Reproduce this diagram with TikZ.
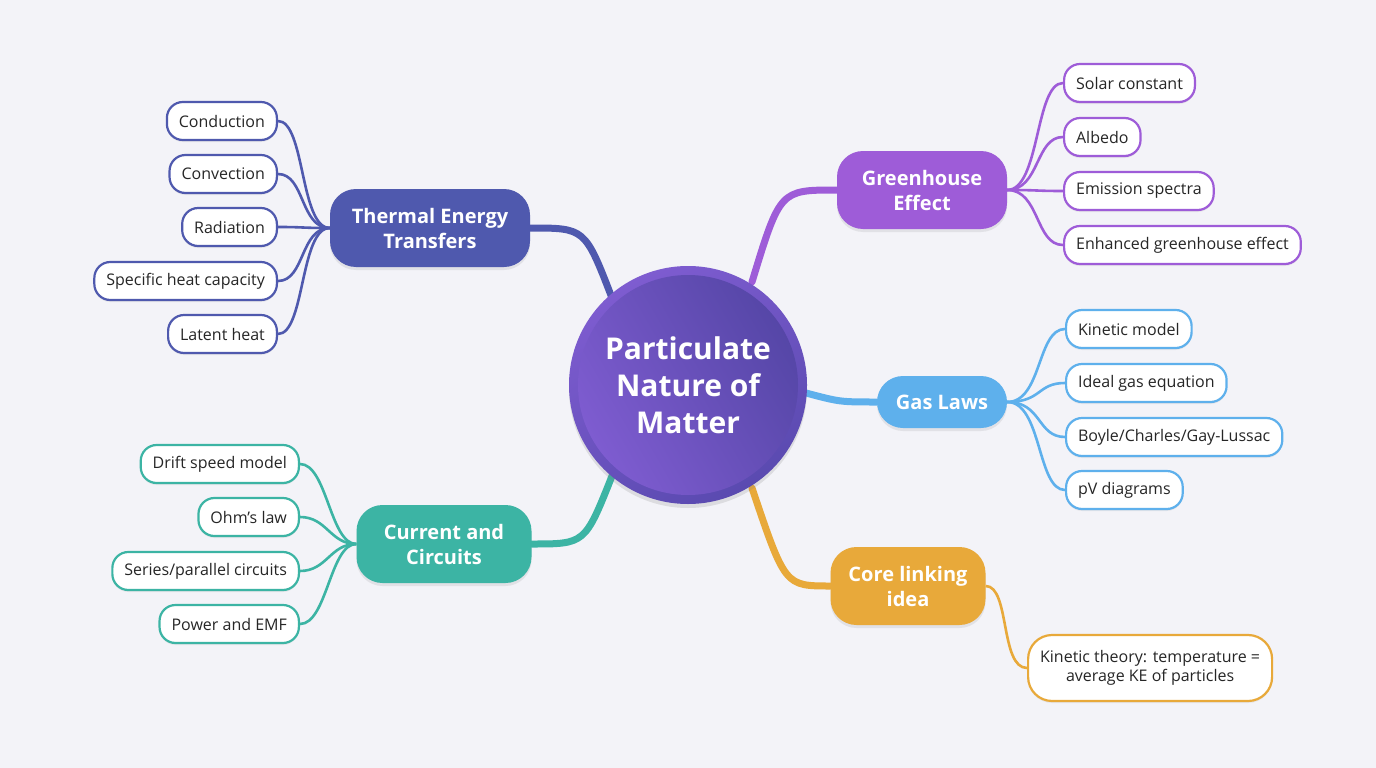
\documentclass[tikz,border=0pt]{standalone}
\usepackage{fontspec}
\setmainfont{Open Sans}
\usetikzlibrary{shadows}
\definecolor{bgc}{HTML}{F3F3F8}
\definecolor{cth}{HTML}{4F59AE}
\definecolor{cgr}{HTML}{9E5CD8}
\definecolor{cga}{HTML}{5EB0EC}
\definecolor{ccu}{HTML}{3CB4A4}
\definecolor{cco}{HTML}{E8A93A}
\definecolor{cin}{HTML}{5A4AB0}
\definecolor{cout}{HTML}{7E5CD0}
\tikzset{
  leaf/.style={draw=#1,line width=2.2pt,fill=white,rounded corners=16pt,minimum height=38pt,inner xsep=12pt,font=\fontsize{16}{19}\selectfont,text=black!85,drop shadow={opacity=0.12,shadow xshift=0pt,shadow yshift=-2pt}},
  branch/.style={fill=#1,rounded corners=26pt,minimum height=78pt,text=white,font=\fontsize{20}{25}\selectfont\bfseries,align=center,drop shadow={opacity=0.15,shadow xshift=0pt,shadow yshift=-3pt}},
  lk/.style={draw=#1,line width=2.6pt},
  mk/.style={draw=#1,line width=7pt,line cap=round},
}
\begin{document}
\begin{tikzpicture}[x=1pt,y=-1pt]
\fill[bgc] (0,0) rectangle (1376,768);
\useasboundingbox (0,0) rectangle (1376,768);
% main branches
\node[branch=cth,minimum width=200pt] (th) at (430,228) {Thermal Energy\\Transfers};
\node[branch=cgr,minimum width=170pt] (gr) at (922,190) {Greenhouse\\Effect};
\node[branch=cga,minimum width=130pt,minimum height=52pt] (gas) at (942,402) {Gas Laws};
\node[branch=ccu,minimum width=175pt] (cu) at (444,544) {Current and\\Circuits};
\node[branch=cco,minimum width=155pt] (co) at (908,586) {Core linking\\idea};
\coordinate (c1) at (612,298);
\coordinate (c2) at (752,282);
\coordinate (c3) at (806,393);
\coordinate (c4) at (612,476);
\coordinate (c5) at (752,488);
\draw[mk=cth] (th.east) .. controls (585,228) .. (c1);
\draw[mk=cgr] (gr.west) .. controls (780,190) .. (c2);
\draw[mk=cga] (gas.west) .. controls (840,402) .. (c3);
\draw[mk=ccu] (cu.east) .. controls (585,544) .. (c4);
\draw[mk=cco] (co.west) .. controls (785,586) .. (c5);
% center
\node[circle,minimum size=238pt,top color=cout,bottom color=cin,shading angle=30,drop shadow={opacity=0.2,shadow xshift=0pt,shadow yshift=-4pt}] (ce) at (688,385) {};
\node[circle,minimum size=220pt,left color=cin!95!black,right color=cout,shading angle=-60,text=white,align=center,font=\fontsize{30}{37}\selectfont\bfseries] at (688,385) {Particulate\\Nature of\\Matter};
% thermal leaves
\foreach \n/\t/\y in {a/Conduction/121,b/Convection/174,c/Radiation/227,d/Specific heat capacity/281,e/Latent heat/334}{
  \node[leaf=cth,anchor=east] (lt\n) at (278,\y) {\t};
  \draw[lk=cth] (lt\n.east) .. controls (305,\y) and (300,228) .. (th.west);
}
% greenhouse leaves
\foreach \n/\t/\y in {a/Solar constant/83,b/Albedo/137,c/Emission spectra/191,d/Enhanced greenhouse effect/245}{
  \node[leaf=cgr,anchor=west] (lg\n) at (1063,\y) {\t};
  \draw[lk=cgr] (gr.east) .. controls (1040,190) and (1035,\y) .. (lg\n.west);
}
% gas leaves
\foreach \n/\t/\y in {a/Kinetic model/329,b/Ideal gas equation/383,c/{Boyle/Charles/Gay-Lussac}/437,d/pV diagrams/490}{
  \node[leaf=cga,anchor=west] (ls\n) at (1065,\y) {\t};
  \draw[lk=cga] (gas.east) .. controls (1042,402) and (1037,\y) .. (ls\n.west);
}
% current leaves
\foreach \n/\t/\y in {a/Drift speed model/464,b/Ohm’s law/517,c/{Series/parallel circuits}/571,d/Power and EMF/624}{
  \node[leaf=ccu,anchor=east] (lk\n) at (300,\y) {\t};
  \draw[lk=ccu] (lk\n.east) .. controls (327,\y) and (330,544) .. (cu.west);
}
% core leaf
\node[leaf=cco,anchor=west,align=center,minimum height=66pt,rounded corners=24pt] (kt) at (1027,668) {Kinetic theory: temperature =\\average KE of particles};
\draw[lk=cco] (co.east) .. controls (1010,586) and (1000,668) .. (kt.west);
\end{tikzpicture}
\end{document}
